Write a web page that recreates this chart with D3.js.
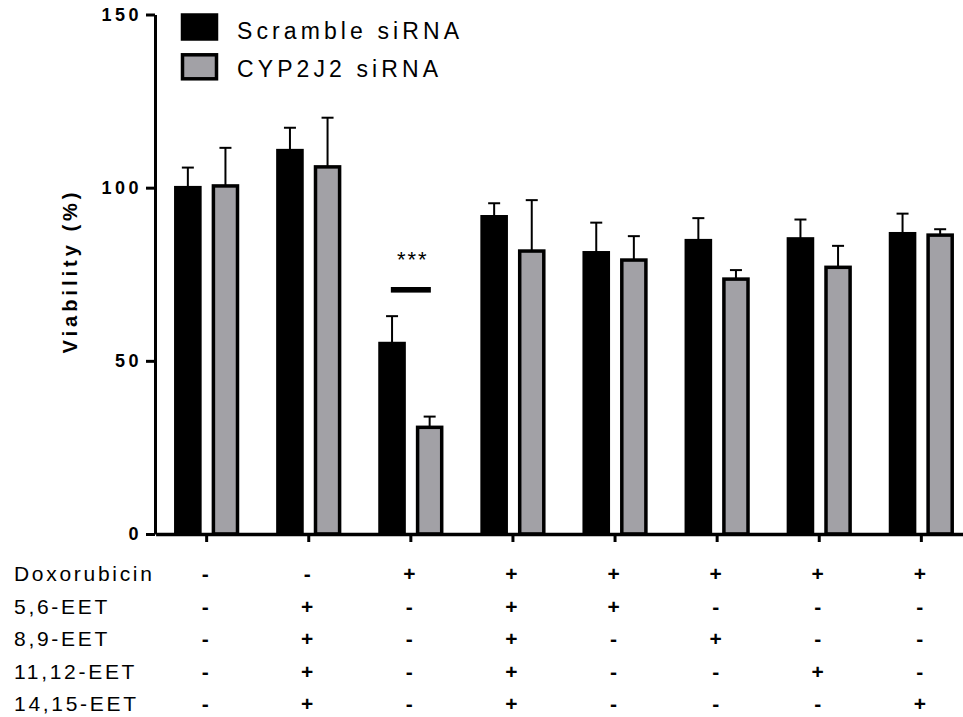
<!DOCTYPE html>
<html>
<head>
<meta charset="utf-8">
<script src="https://cdn.jsdelivr.net/npm/d3@7"></script>
<style>
  html, body { margin: 0; padding: 0; background: #fff; }
  svg { display: block; font-family: "Liberation Sans", Arial, sans-serif; }
</style>
</head>
<body>
<svg id="chart" width="963" height="717"></svg>
<script>
// ---- data ----
const groups = ["G1", "G2", "G3", "G4", "G5", "G6", "G7", "G8"];
const seriesNames = ["Scramble siRNA", "CYP2J2 siRNA"];
const scrambleMean = [100.0, 110.7, 55.0, 91.6, 81.2, 84.7, 85.2, 86.7];
const scrambleErr  = [5.8, 6.6, 7.9, 3.9, 8.7, 6.5, 5.6, 5.8];
const cypMean      = [100.5, 106.0, 30.8, 81.7, 79.1, 73.6, 77.0, 86.3];
const cypErr       = [11.0, 14.2, 3.1, 14.7, 6.9, 2.6, 6.2, 1.7];
const yTicks = [0, 50, 100, 150];
const rowLabels = ["Doxorubicin", "5,6-EET", "8,9-EET", "11,12-EET", "14,15-EET"];
const doxorubicin = ["-", "-", "+", "+", "+", "+", "+", "+"];
const eet56   = ["-", "+", "-", "+", "+", "-", "-", "-"];
const eet89   = ["-", "+", "-", "+", "-", "+", "-", "-"];
const eet1112 = ["-", "+", "-", "+", "-", "-", "+", "-"];
const eet1415 = ["-", "+", "-", "+", "-", "-", "-", "+"];
const signifGroup = "G3";
const signifLabel = "***";
const yLabel = "Viability (%)";

// ---- styles ----
const colors = ["#000000", "#a2a1a6"];
const strokeW = 3.5;

const svg = d3.select("#chart");

const x0 = d3.scaleBand().domain(groups).range([155.6, 155.6 + 8 * 102.1]).padding(0);
const x1 = d3.scaleBand().domain(seriesNames).range([-32.6, 32.6]).paddingInner(0.266).paddingOuter(0);
const y = d3.scaleLinear().domain([0, 150]).range([534, 14.5]);

const data = groups.map((g, i) => ({
  group: g,
  values: [
    { name: seriesNames[0], mean: scrambleMean[i], err: scrambleErr[i], c: colors[0] },
    { name: seriesNames[1], mean: cypMean[i], err: cypErr[i], c: colors[1] }
  ]
}));

const center = g => x0(g) + x0.bandwidth() / 2;

// error bars (upper only)
const eg = svg.append("g");
data.forEach(d => {
  d.values.forEach(v => {
    const cx = center(d.group) + x1(v.name) + x1.bandwidth() / 2;
    eg.append("line").attr("x1", cx).attr("x2", cx)
      .attr("y1", y(v.mean)).attr("y2", y(v.mean + v.err))
      .attr("stroke", "#000").attr("stroke-width", 2);
    eg.append("line").attr("x1", cx - 6).attr("x2", cx + 6)
      .attr("y1", y(v.mean + v.err)).attr("y2", y(v.mean + v.err))
      .attr("stroke", "#000").attr("stroke-width", 2);
  });
});

// bars
const bg = svg.append("g");
data.forEach(d => {
  bg.selectAll(null).data(d.values).enter().append("rect")
    .attr("x", v => center(d.group) + x1(v.name) + strokeW / 2)
    .attr("width", x1.bandwidth() - strokeW)
    .attr("y", v => y(v.mean))
    .attr("height", v => y(0) - y(v.mean))
    .attr("fill", v => v.c)
    .attr("stroke", "#000")
    .attr("stroke-width", strokeW);
});

// y axis
const yAxis = svg.append("g").attr("transform", "translate(155,0)")
  .call(d3.axisLeft(y).tickValues(yTicks).tickSize(9).tickSizeOuter(0).tickPadding(4));
yAxis.select(".domain").attr("stroke", "#000").attr("stroke-width", 3);
yAxis.selectAll(".tick line").attr("stroke", "#000").attr("stroke-width", 3);
yAxis.selectAll(".tick text")
  .attr("font-size", 18).attr("font-weight", "bold").attr("fill", "#000")
  .attr("letter-spacing", "3.5px").attr("font-family", "Liberation Sans, Arial, sans-serif");

// x axis
const xAxis = svg.append("g").attr("transform", "translate(0,534)")
  .call(d3.axisBottom(x0).tickSize(8).tickSizeOuter(0).tickFormat(""));
xAxis.select(".domain").attr("stroke", "#000").attr("stroke-width", 3.5);
xAxis.selectAll(".tick line").attr("stroke", "#000").attr("stroke-width", 3);

// y label
svg.append("text")
  .attr("transform", "translate(77,271) rotate(-90)")
  .attr("text-anchor", "middle")
  .attr("font-size", 20).attr("font-weight", "bold")
  .attr("letter-spacing", "4px")
  .text(yLabel);

// significance
const sc = center(signifGroup);
svg.append("rect").attr("x", sc - 20).attr("y", 287).attr("width", 40).attr("height", 5.6).attr("fill", "#000");
svg.append("text").attr("x", sc + 2).attr("y", 267)
  .attr("text-anchor", "middle").attr("font-size", 22).attr("letter-spacing", "2px")
  .text(signifLabel);

// legend
const lg = svg.append("g");
seriesNames.forEach((s, i) => {
  lg.append("rect").attr("x", 182.5).attr("y", 15 + i * 39.8).attr("width", 34).attr("height", 24)
    .attr("fill", colors[i]).attr("stroke", "#000").attr("stroke-width", strokeW);
  lg.append("text").attr("x", 237).attr("y", 39.3 + i * 37.4)
    .attr("font-size", 23).attr("letter-spacing", "4.1px").text(s);
});

// treatment table
const rows = [doxorubicin, eet56, eet89, eet1112, eet1415];
const rowY = [573.3, 606, 638.3, 671.7, 703.3];
rowLabels.forEach((lab, r) => {
  svg.append("text").attr("x", 14).attr("y", rowY[r] + 7.5)
    .attr("font-size", 21).attr("letter-spacing", "2.7px").text(lab);
  svg.selectAll(null).data(groups).enter().append("text")
    .attr("x", g => center(g) - 1.5)
    .attr("y", rowY[r])
    .attr("dy", "0.36em")
    .attr("text-anchor", "middle")
    .attr("font-size", 21).attr("font-weight", "bold")
    .text((g, i) => rows[r][i]);
});
</script>
</body>
</html>
